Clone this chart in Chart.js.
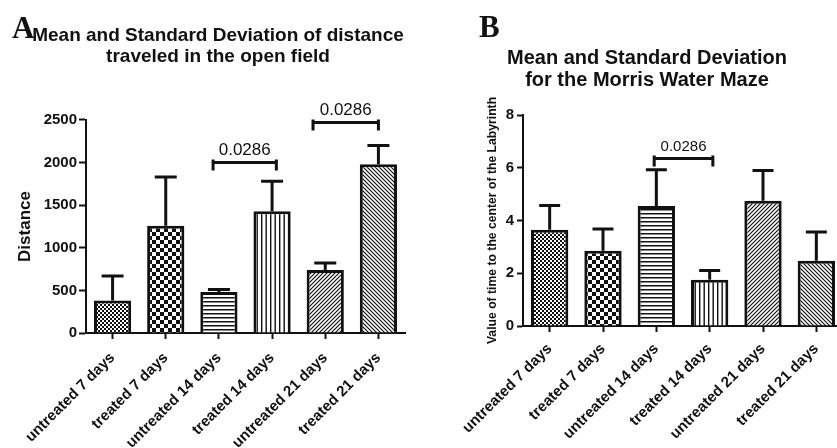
<!DOCTYPE html>
<html>
<head>
<meta charset="utf-8">
<script src="https://cdn.jsdelivr.net/npm/chart.js@4.4.1/dist/chart.umd.min.js"></script>
<style>
  html, body { margin: 0; padding: 0; width: 837px; height: 448px; overflow: hidden; background: #fff; }
  canvas { position: absolute; top: 0; }
  #chartA { left: 0; }
  #chartB { left: 420px; }
</style>
</head>
<body>
<canvas id="chartA" width="436" height="448"></canvas>
<canvas id="chartB" width="454" height="448"></canvas>
<script>
// ===================== DATA =====================
const categories = ['untreated 7 days', 'treated 7 days', 'untreated 14 days', 'treated 14 days', 'untreated 21 days', 'treated 21 days'];

// panel A - open field distance
const distanceMean = [380, 1260, 480, 1430, 740, 1980];
const distanceSD = [290, 570, 30, 350, 80, 220];
const distanceTicks = [0, 500, 1000, 1500, 2000, 2500];
const distanceBrackets = [
  { from: 1.89, to: 3.08, value: 2000, label: '0.0286' },
  { from: 3.77, to: 5.0, value: 2470, label: '0.0286' }
];

// panel B - Morris water maze
const mazeMean = [3.65, 2.85, 4.55, 1.75, 4.75, 2.47];
const mazeSD = [0.92, 0.83, 1.37, 0.35, 1.15, 1.09];
const mazeTicks = [0, 2, 4, 6, 8];
const mazeBrackets = [
  { from: 1.96, to: 3.06, value: 6.35, label: '0.0286' }
];

const INK = '#111';
Chart.defaults.font.family = '"Liberation Sans", Arial, Helvetica, sans-serif';
Chart.defaults.color = INK;

// ===================== PATTERNS =====================
function makePattern(w, h, draw) {
  const c = document.createElement('canvas');
  c.width = w; c.height = h;
  const g = c.getContext('2d');
  g.fillStyle = '#fff';
  g.fillRect(0, 0, w, h);
  g.fillStyle = INK;
  g.strokeStyle = INK;
  draw(g);
  return g.createPattern(c, 'repeat');
}

function barPatterns() {
  return [
    makePattern(4, 4, g => { g.fillRect(0, 0, 2, 2); g.fillRect(2, 2, 2, 2); }),
    makePattern(8, 8, g => { g.fillRect(0, 0, 4, 4); g.fillRect(4, 4, 4, 4); }),
    makePattern(4, 4, g => { g.fillRect(0, 1, 4, 1.5); }),
    makePattern(9, 4, g => { g.fillRect(0, 0, 1.4, 4); g.fillRect(4.5, 0, 1.4, 4); }),
    makePattern(4, 4, g => {
      g.lineWidth = 1.2;
      g.beginPath();
      g.moveTo(0, 4); g.lineTo(4, 0);
      g.moveTo(-1, 1); g.lineTo(1, -1);
      g.moveTo(3, 5); g.lineTo(5, 3);
      g.stroke();
    }),
    makePattern(4, 4, g => {
      g.lineWidth = 1.2;
      g.beginPath();
      g.moveTo(0, 0); g.lineTo(4, 4);
      g.moveTo(-1, 3); g.lineTo(1, 5);
      g.moveTo(3, -1); g.lineTo(5, 1);
      g.stroke();
    })
  ];
}

// ===================== PLUGINS =====================
// upper error bars + significance brackets
const errorBars = {
  id: 'errorBars',
  afterDatasetsDraw(chart, args, opts) {
    const { ctx, scales: { x, y } } = chart;
    const meta = chart.getDatasetMeta(0);
    const means = chart.data.datasets[0].data;
    ctx.save();
    ctx.strokeStyle = INK;
    ctx.lineWidth = 3;
    meta.data.forEach((bar, i) => {
      const top = y.getPixelForValue(means[i] + opts.sd[i]);
      ctx.beginPath();
      ctx.moveTo(bar.x, bar.y);
      ctx.lineTo(bar.x, top);
      ctx.moveTo(bar.x - opts.cap / 2, top);
      ctx.lineTo(bar.x + opts.cap / 2, top);
      ctx.stroke();
    });
    ctx.fillStyle = INK;
    ctx.font = 'normal ' + opts.labelSize + 'px "Liberation Sans", Arial, sans-serif';
    ctx.textAlign = 'center';
    ctx.textBaseline = 'bottom';
    opts.brackets.forEach(b => {
      const x1 = x.getPixelForValue(b.from);
      const x2 = x.getPixelForValue(b.to);
      const yy = y.getPixelForValue(b.value);
      ctx.beginPath();
      ctx.moveTo(x1, yy); ctx.lineTo(x2, yy);
      ctx.moveTo(x1, yy - 3); ctx.lineTo(x1, yy + 8);
      ctx.moveTo(x2, yy - 3); ctx.lineTo(x2, yy + 8);
      ctx.stroke();
      ctx.fillText(b.label, (x1 + x2) / 2, yy - 4);
    });
    ctx.restore();
  }
};

// panel letter (A / B)
const panelLetter = {
  id: 'panelLetter',
  afterDraw(chart, args, opts) {
    const ctx = chart.ctx;
    ctx.save();
    ctx.fillStyle = INK;
    ctx.font = 'bold 31px "Liberation Serif", "Times New Roman", serif';
    ctx.textBaseline = 'alphabetic';
    ctx.fillText(opts.text, opts.x, opts.y);
    ctx.restore();
  }
};

// ===================== CHART BUILDER =====================
function buildChart(id, cfg) {
  const ctx = document.getElementById(id).getContext('2d');
  return new Chart(ctx, {
    type: 'bar',
    data: {
      labels: categories,
      datasets: [{
        data: cfg.means,
        backgroundColor: barPatterns(),
        borderColor: INK,
        borderWidth: 3,
        barPercentage: 0.7,
        categoryPercentage: 1
      }]
    },
    options: {
      responsive: false,
      animation: false,
      devicePixelRatio: 1,
      layout: { padding: 0 },
      plugins: {
        legend: { display: false },
        tooltip: { enabled: false },
        title: {
          display: true,
          text: cfg.title,
          color: INK,
          font: { size: cfg.titleSize, weight: 'bold', lineHeight: cfg.titleLine },
          padding: cfg.titlePad
        },
        errorBars: { sd: cfg.sd, cap: cfg.cap, brackets: cfg.brackets, labelSize: cfg.labelSize },
        panelLetter: cfg.letter
      },
      scales: {
        x: {
          grid: { offset: false, drawOnChartArea: false, drawTicks: true, tickLength: 6, tickWidth: 2, tickColor: INK },
          border: { display: true, color: INK, width: 2 },
          ticks: { autoSkip: false, minRotation: 45, maxRotation: 45, padding: cfg.xPad, color: INK, font: { size: 15, weight: 'bold' } },
          afterFit(scale) {
            scale.height = cfg.xHeight;
            scale.paddingLeft = 0;
            scale.paddingRight = 31;
          }
        },
        y: {
          min: 0,
          max: cfg.ticks[cfg.ticks.length - 1],
          afterBuildTicks(scale) { scale.ticks = cfg.ticks.map(v => ({ value: v })); },
          grid: { drawOnChartArea: false, drawTicks: true, tickLength: cfg.tickLen, tickWidth: 2, tickColor: INK },
          border: { display: true, color: INK, width: 2 },
          ticks: {
            padding: cfg.tickPad,
            color: INK,
            font: { size: 15, weight: 'bold' },
            callback: v => String(v)
          },
          title: {
            display: true,
            text: cfg.yTitle,
            color: INK,
            font: { size: cfg.yTitleSize, weight: 'bold', lineHeight: 1.2 },
            padding: { top: cfg.yTitlePad, bottom: 0 }
          },
          afterFit(scale) { scale.width = cfg.yWidth; }
        }
      }
    },
    plugins: [errorBars, panelLetter]
  });
}

buildChart('chartA', {
  means: distanceMean,
  sd: distanceSD,
  ticks: distanceTicks,
  brackets: distanceBrackets,
  title: ['Mean and Standard Deviation of distance', 'traveled in the open field'],
  titleSize: 19, titleLine: 1.07, titlePad: { top: 25.8, bottom: 53.5 },
  yTitle: 'Distance', yTitleSize: 17, yTitlePad: 15.3,
  yWidth: 86, xHeight: 115, xPad: 10, tickLen: 7, tickPad: 2,
  cap: 22, labelSize: 17,
  letter: { text: 'A', x: 12, y: 38 }
});

buildChart('chartB', {
  means: mazeMean,
  sd: mazeSD,
  ticks: mazeTicks,
  brackets: mazeBrackets,
  title: ['Mean and Standard Deviation', 'for the Morris Water Maze'],
  titleSize: 20, titleLine: 1.08, titlePad: { top: 47.7, bottom: 24.1 },
  yTitle: 'Value of time to the center of the Labyrinth', yTitleSize: 12.2, yTitlePad: 65,
  yWidth: 103, xHeight: 122, xPad: 8, tickLen: 6, tickPad: 3,
  cap: 21, labelSize: 15,
  letter: { text: 'B', x: 59, y: 37 }
});
</script>
</body>
</html>
